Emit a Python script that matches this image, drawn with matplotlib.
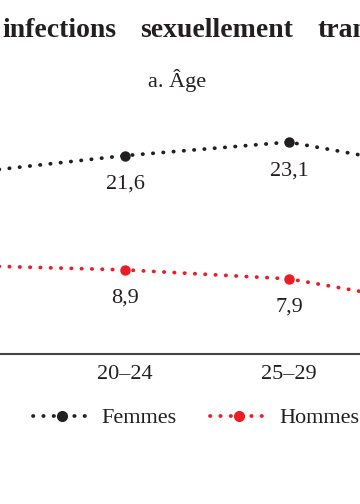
import matplotlib
matplotlib.use("Agg")
import matplotlib.pyplot as plt
from matplotlib.lines import Line2D

# data (the reference is a crop: only 20-24 and 25-29 are fully visible)
age_groups = ["15–19", "20–24", "25–29", "30–34"]
femmes = [19.6, 21.6, 23.1, 19.8]
hommes = [9.4, 8.9, 7.9, 4.7]
labelled = [1, 2]  # indices whose value labels are shown

# justified title, one word at a time: (word, x in px, alignment)
title_words = [("infections", 2, "left"), ("sexuellement", 217, "center"),
               ("transmissibles", 317, "left")]

black = "#231f20"
red = "#ed1c24"

plt.rcParams["font.family"] = ["Liberation Serif", "DejaVu Serif"]

fig = plt.figure(figsize=(3.6, 5.04), dpi=100)
# axes wider than the figure so the outer categories are cut off
ax = fig.add_axes([-121 / 360, 150 / 504, 656 / 360, 229 / 504])

dots = (0, (0.1, 2.65))
lw = 2.7
x = list(range(len(age_groups)))
for vals, col in [(femmes, black), (hommes, red)]:
    ax.plot(x, vals, color=col, lw=lw, linestyle=dots, dash_capstyle="round",
            marker="o", markersize=6.5, clip_on=False)
    for i in labelled:
        ax.annotate(f"{vals[i]:.1f}".replace(".", ","), (i, vals[i]),
                    xytext=(0, -20.5), textcoords="offset points",
                    ha="center", va="center", fontsize=16, color=black)

ax.set_xlim(-0.5, 3.5)
ax.set_ylim(-0.45, 25)
ax.set_xticks(x)
ax.set_xticklabels(age_groups, fontsize=16, color=black)
ax.tick_params(axis="x", length=0, pad=8)
ax.set_yticks([])
for s in ["top", "right", "left"]:
    ax.spines[s].set_visible(False)
ax.spines["bottom"].set_color("#444444")
ax.spines["bottom"].set_linewidth(1.5)

for word, wx, align in title_words:
    fig.text(wx / 360, 1 - 37 / 504, word, fontsize=20, fontweight="bold",
             ha=align, va="baseline", color=black)
fig.text(177 / 360, 1 - 80 / 504, "a. Âge", fontsize=16, ha="center",
         va="center", color=black)

handles = [
    Line2D([], [], color=black, lw=lw, linestyle=dots, dash_capstyle="round",
           marker="o", markersize=7),
    Line2D([], [], color=red, lw=lw, linestyle=dots, dash_capstyle="round",
           marker="o", markersize=7),
]
fig.legend(handles, ["Femmes", "Hommes"], loc="center",
           bbox_to_anchor=(196 / 360, 1 - 418 / 504), ncol=2, frameon=False,
           fontsize=16, handlelength=2.6, handletextpad=0.5, columnspacing=1.5,
           labelcolor=black)

fig.savefig("out.png", dpi=100)
